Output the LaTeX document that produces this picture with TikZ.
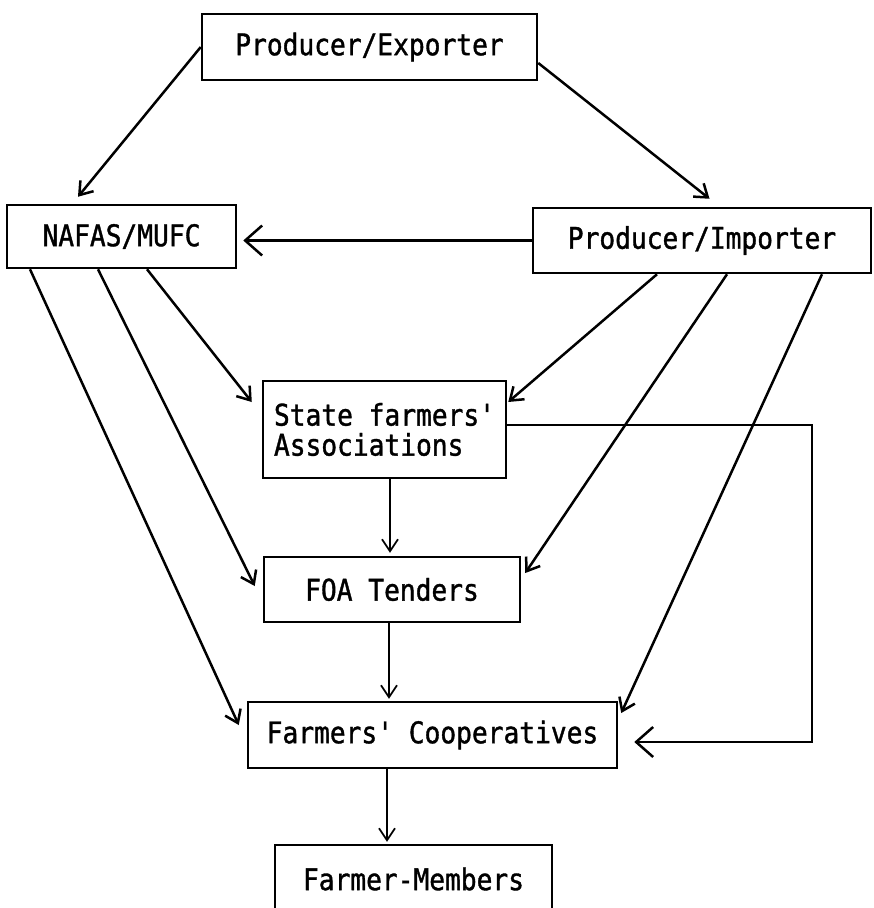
\documentclass[tikz,border=0pt]{standalone}
\usepackage{fontspec}
\newfontfamily\twfont{DejaVu Sans Mono}[FakeStretch=0.88,FakeBold=1.2]
\usetikzlibrary{arrows.meta}
\begin{document}
\begin{tikzpicture}[x=1pt,y=-1pt,
  box/.style={draw, line width=2.5pt, inner sep=0pt,
    font=\twfont\fontsize{29.8}{30}\selectfont},
  conn/.style={line width=2.5pt, -{Straight Barb[length=12pt,width=17pt]}},
  bigconn/.style={line width=2.5pt, -{Straight Barb[length=17pt,width=30pt]}},
  thinconn/.style={line width=1.7pt, -{Straight Barb[length=12pt,width=16pt]}}]
\useasboundingbox (0,0) rectangle (874,908);
\node[box, minimum width=335pt, minimum height=66pt] (pe) at (369.5,47) {Producer/Exporter};
\node[box, minimum width=229pt, minimum height=63pt] (nafas) at (121.5,236.5) {NAFAS/MUFC};
\node[box, minimum width=338pt, minimum height=65pt] (pi) at (702,240.5) {Producer/Importer};
\node[box, minimum width=243pt, minimum height=97pt, align=left] (sfa) at (384.5,429.5) {State farmers'\\Associations};
\node[box, minimum width=256pt, minimum height=65pt] (foa) at (392,589.5) {FOA Tenders};
\node[box, minimum width=369pt, minimum height=66pt] (fc) at (432.5,735) {Farmers' Cooperatives};
\node[box, minimum width=277pt, minimum height=68pt] (fm) at (413.5,879) {Farmer-Members};

% top connectors
\draw[conn] (pe.west) -- ([xshift=-43.5pt,yshift=7pt]nafas.north);
\draw[conn] ([yshift=-16pt]pe.east) -- ([xshift=7.5pt,yshift=8pt]pi.north);
\draw[bigconn, shorten >=6pt] (pi.west) -- (pi.west -| nafas.east);

% from NAFAS/MUFC
\draw[conn] ([xshift=25.5pt]nafas.south) -- ([xshift=-10pt,yshift=27.5pt]sfa.west);
\draw[conn] ([xshift=-23.5pt]nafas.south) -- ([xshift=-8pt,yshift=3.5pt]foa.west);
\draw[conn] ([xshift=-91.5pt]nafas.south) -- ([xshift=-8pt,yshift=10pt]fc.west);

% from Producer/Importer
\draw[conn] ([xshift=-45pt]pi.south) -- ([xshift=1pt,yshift=27.5pt]sfa.east);
\draw[conn] ([xshift=25pt]pi.south) -- ([xshift=4pt,yshift=16.5pt]foa.east);
\draw[conn] ([xshift=120pt]pi.south) -- ([xshift=3pt,yshift=22pt]fc.east);

% vertical chain
\draw[thinconn] ([xshift=5.5pt]sfa.south) -- ([xshift=-2pt,yshift=3pt]foa.north);
\draw[thinconn] ([xshift=-3pt]foa.south) -- ([xshift=-43.5pt,yshift=2pt]fc.north);
\draw[thinconn] ([xshift=-45.5pt]fc.south) -- ([xshift=-26.5pt,yshift=2pt]fm.north);

% loop from State farmers' Associations to Farmers' Cooperatives
\coordinate (cr) at (812,425);
\coordinate (fcin) at ([xshift=16pt,yshift=-7pt]fc.east);
\draw[bigconn] ([yshift=4.5pt]sfa.east) -- (cr) -- (cr |- fcin) -- (fcin);
\end{tikzpicture}
\end{document}
